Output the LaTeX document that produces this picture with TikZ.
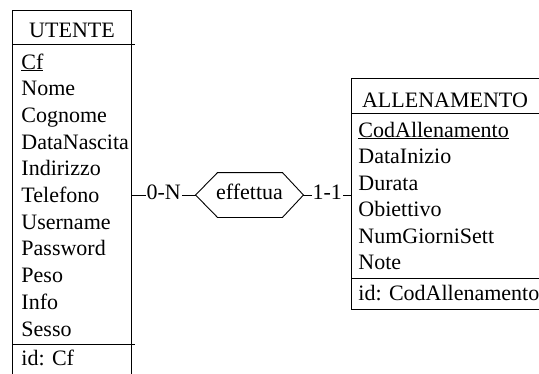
\documentclass[tikz,border=0pt]{standalone}
\usepackage{fontspec}
\setmainfont{Liberation Serif}
\begin{document}
\begin{tikzpicture}[x=1pt,y=-1pt,line width=0.9pt,
    ent/.style={draw, anchor=north west, inner sep=0pt},
    txt/.style={font=\fontsize{22}{26}\selectfont, inner sep=0pt},
    attr/.style={txt, anchor=base west},
    title/.style={txt, anchor=base},
    mid/.style={txt, text height=11pt, text depth=3pt},
    card/.style={mid, fill=white, inner xsep=1pt}]
  \useasboundingbox (0,0) rectangle (539,373);

  \node[ent, minimum width=119pt, minimum height=380pt] (utente) at (12,10) {};
  \node[title] (utitle) at (72,37) {UTENTE};
  \draw (12,44) -- (135,44);
  \foreach \a [count=\i from 0] in {\underline{Cf},Nome,Cognome,DataNascita,Indirizzo,Telefono,Username,Password,Peso,Info,Sesso}
    \node[attr] (u\i) at (21,{69+26.7*\i}) {\a};
  \draw (12,344) -- (135,344);
  \node[attr] (uid) at (21,365) {id: Cf};

  \node[ent, minimum width=192pt, minimum height=231pt] (allen) at (351,78) {};
  \node[title] (atitle) at (445,107) {ALLENAMENTO};
  \draw (351,113) -- (543,113);
  \foreach \a [count=\i from 0] in {\underline{CodAllenamento},DataInizio,Durata,Obiettivo,NumGiorniSett,Note}
    \node[attr] (a\i) at (358,{137+26.5*\i}) {\a};
  \draw (351,278) -- (543,278);
  \node[attr] (aid) at (358,300) {id: CodAllenamento};

  \node[mid, minimum width=107pt, minimum height=44pt] (rel) at (249.5,195) {effettua};
  \draw (rel.west) -- ([xshift=22pt]rel.north west) -- ([xshift=-21pt]rel.north east)
    -- (rel.east) -- ([xshift=-21pt]rel.south east) -- ([xshift=22pt]rel.south west) -- cycle;

  \draw (utente.east |- rel.west) -- node[card] {0-N} (rel.west);
  \draw (rel.east) -- node[card] {1-1} (allen.west |- rel.east);
\end{tikzpicture}
\end{document}
